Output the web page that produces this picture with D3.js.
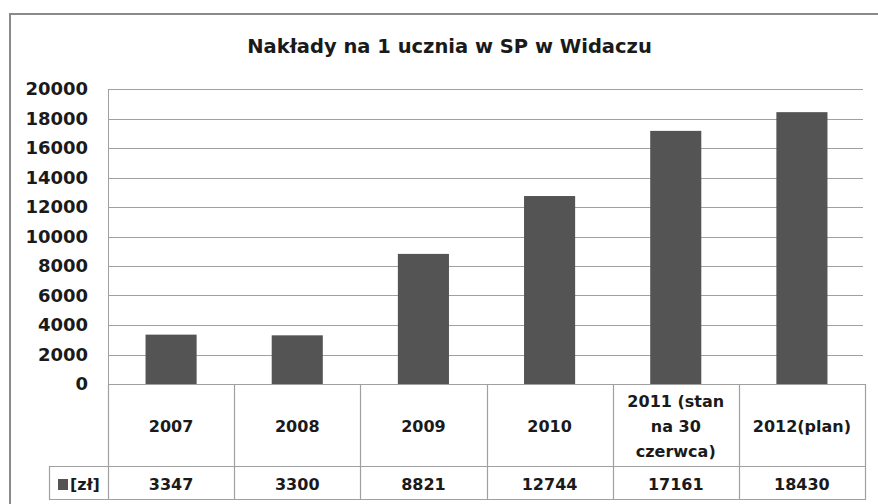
<!DOCTYPE html>
<html><head><meta charset="utf-8">
<script src="https://cdn.jsdelivr.net/npm/d3@7"></script>
<style>body{margin:0;background:#fff}svg{display:block}</style>
</head><body>
<script>
const title = "Nakłady na 1 ucznia w SP w Widaczu";
const categories = ["2007","2008","2009","2010","2011 (stan na 30 czerwca)","2012(plan)"];
const categoryLines = [["2007"],["2008"],["2009"],["2010"],["2011 (stan","na 30","czerwca)"],["2012(plan)"]];
const seriesName = "[zł]";
const values = [3347,3300,8821,12744,17161,18430];
const yTicks = [0,2000,4000,6000,8000,10000,12000,14000,16000,18000,20000];

const W=878,H=504;
const svg=d3.select("body").append("svg").attr("width",W).attr("height",H);
const font="'DejaVu Sans', sans-serif";
const gridC="#a0a0a0";
const txtC="#1a1a1a";

// outer frame
svg.append("line").attr("x1",10).attr("x2",W).attr("y1",14).attr("y2",14).attr("stroke","#8a8a8a").attr("stroke-width",2);
svg.append("line").attr("x1",10).attr("x2",10).attr("y1",13).attr("y2",H).attr("stroke","#8a8a8a").attr("stroke-width",2);

svg.append("text").attr("x",449.5).attr("y",53).attr("text-anchor","middle")
  .attr("font-family",font).attr("font-weight","bold").attr("font-size",19.5).attr("fill",txtC).text(title);

const x=d3.scaleBand().domain(categories).range([108,865]).paddingInner(0.595).paddingOuter(0.2975);
const y=d3.scaleLinear().domain([0,20000]).range([384,89]);

// gridlines
svg.append("g").selectAll("line").data(yTicks).join("line")
  .attr("x1",108).attr("x2",863).attr("y1",d=>Math.round(y(d))+0.5).attr("y2",d=>Math.round(y(d))+0.5)
  .attr("stroke",gridC).attr("stroke-width",1);

// y axis
const ya=svg.append("g").attr("transform","translate(108,0)")
  .call(d3.axisLeft(y).tickValues(yTicks).tickSize(0).tickPadding(20).tickFormat(d3.format("d")));
ya.select(".domain").attr("stroke",gridC);
ya.selectAll("text").attr("font-family",font).attr("font-weight","bold").attr("font-size",18).attr("fill",txtC);

// bars
svg.append("g").selectAll("rect").data(values).join("rect")
  .attr("x",(d,i)=>x(categories[i])).attr("width",x.bandwidth())
  .attr("y",d=>y(d)).attr("height",d=>y(0)-y(d)).attr("fill","#545454");

// data table
const tb=svg.append("g").attr("stroke",gridC).attr("stroke-width",1.2);
const step=x.step(), left=108, right=865;
tb.append("line").attr("x1",left).attr("x2",right).attr("y1",384.5).attr("y2",384.5);
tb.append("line").attr("x1",49).attr("x2",right).attr("y1",466.5).attr("y2",466.5);
tb.append("line").attr("x1",49).attr("x2",right).attr("y1",499.5).attr("y2",499.5);
tb.append("line").attr("x1",49.5).attr("x2",49.5).attr("y1",466).attr("y2",500);
const bounds=categories.map(c=>x(c)+(x.bandwidth()-step)/2);
bounds.push(right);
tb.selectAll(".v").data(bounds).join("line").attr("class","v")
  .attr("x1",d=>Math.round(d)+0.5).attr("x2",d=>Math.round(d)+0.5).attr("y1",384).attr("y2",500);

const cx=c=>x(c)+x.bandwidth()/2;
categories.forEach((c,i)=>{
  const lines=categoryLines[i];
  const lh=25, y0=432-(lines.length-1)*lh/2;
  const t=svg.append("text").attr("text-anchor","middle").attr("font-family",font)
    .attr("font-weight","bold").attr("font-size",16).attr("fill",txtC);
  lines.forEach((l,k)=>t.append("tspan").attr("x",cx(c)).attr("y",y0+k*lh).text(l));
  svg.append("text").attr("x",cx(c)).attr("y",490).attr("text-anchor","middle").attr("font-family",font)
    .attr("font-weight","bold").attr("font-size",16).attr("fill",txtC).text(d3.format("d")(values[i]));
});
svg.append("rect").attr("x",58).attr("y",479).attr("width",10).attr("height",11).attr("fill","#545454");
svg.append("text").attr("x",70).attr("y",490).attr("font-family",font).attr("font-weight","bold")
  .attr("font-size",16).attr("fill",txtC).text(seriesName);
</script>
</body></html>
